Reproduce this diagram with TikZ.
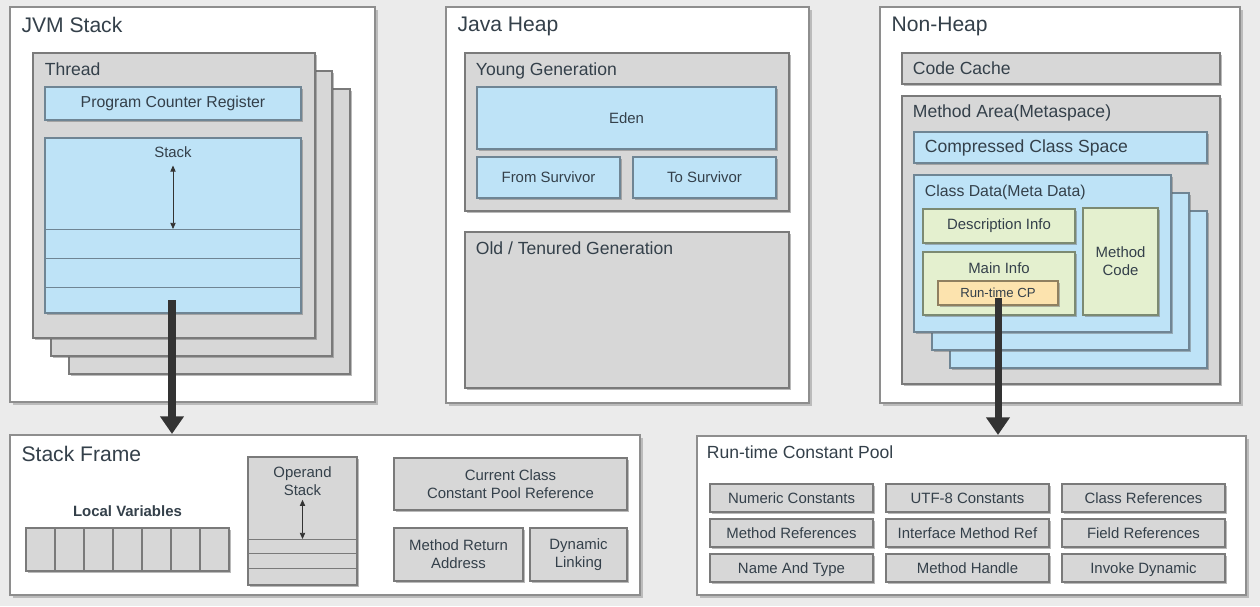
\documentclass[tikz,border=0pt]{standalone}
\usepackage{fontspec}
\setmainfont{Liberation Sans}
\usetikzlibrary{positioning, fit, calc, arrows.meta, shadows}

\definecolor{bgc}{HTML}{EBEBEB}
\definecolor{panelline}{HTML}{8E8E8E}
\definecolor{grayfill}{HTML}{D7D7D7}
\definecolor{grayline}{HTML}{7A7A7A}
\definecolor{bluefill}{HTML}{BEE3F7}
\definecolor{blueline}{HTML}{6F8594}
\definecolor{greenfill}{HTML}{E4F0CF}
\definecolor{greenline}{HTML}{7C8A72}
\definecolor{orangefill}{HTML}{FCE3AE}
\definecolor{orangeline}{HTML}{8F8060}
\definecolor{txt}{HTML}{34404A}
\definecolor{arrowc}{HTML}{333333}

\begin{document}
\begin{tikzpicture}[
  x=0.02cm, y=-0.02cm,
  panel/.style={draw=panelline, line width=1.2pt, fill=white, inner sep=0pt,
    drop shadow={shadow xshift=1.5pt, shadow yshift=-1.5pt, fill=black!45, opacity=0.5}},
  graybox/.style={draw=grayline, fill=grayfill, line width=0.7pt, inner sep=0pt, outer sep=0pt,
    text=txt, align=center, font=\fontsize{8.5}{10.2}\selectfont,
    drop shadow={shadow xshift=1pt, shadow yshift=-1pt, fill=black!60, opacity=0.45}},
  bluebox/.style={graybox, draw=blueline, fill=bluefill},
  greenbox/.style={graybox, draw=greenline, fill=greenfill},
  cpbox/.style={graybox, draw=orangeline, fill=orangefill},
  cell/.style={graybox, minimum width=0.58cm, minimum height=0.86cm},
  gridbox/.style={graybox, minimum width=3.26cm, minimum height=0.56cm, text height=6.3pt, text depth=0.3pt},
  title/.style={inner sep=0pt, text=txt, font=\fontsize{12}{14}\selectfont},
  head/.style={inner sep=0pt, text=txt, font=\fontsize{10}{12}\selectfont},
  lbl/.style={inner sep=0pt, text=txt, align=center, font=\fontsize{8.5}{10.2}\selectfont},
  sep/.style={draw=blueline, line width=0.5pt},
  bigarrow/.style={-{Triangle[length=10pt,width=13pt]}, line width=4pt, draw=arrowc},
  dblarrow/.style={{Triangle[length=3.5pt,width=3pt]}-{Triangle[length=3.5pt,width=3pt]}, line width=0.5pt, draw=black!80}
]

\fill[bgc] (0,0) rectangle (1260,606);
\useasboundingbox (0,0) rectangle (1260,606);

% Panels
\node[panel, fit={(10,7) (375,402)}] (jvm) {};
\node[panel, fit={(446,7) (809,403)}] (heap) {};
\node[panel, fit={(880,7) (1240,403)}] (nonheap) {};
\node[panel, fit={(10,435) (640,595)}] (sframe) {};
\node[panel, fit={(697,436) (1246,595)}] (rtcp) {};

\node[title, below right=6pt and 7pt of jvm.north west] (jvmT) {JVM Stack};
\node[title, below right=6pt and 7pt of heap.north west] (heapT) {Java Heap};
\node[title, below right=6pt and 7pt of nonheap.north west] (nonheapT) {Non-Heap};
\node[title, below right=6.5pt and 7pt of sframe.north west] (sframeT) {Stack Frame};
\node[head, below right=6pt and 6pt of rtcp.north west] (rtcpT) {Run-time Constant Pool};

% JVM stack: threads
\node[graybox, fit={(69,89) (350,374)}] (thread3) {};
\node[graybox, fit={(51,71) (332,356)}] (thread2) {};
\node[graybox, fit={(33,53) (315,338)}] (thread) {};
\node[head, below right=5.5pt and 6.5pt of thread.north west] (threadT) {Thread};

\node[bluebox, fit={(45,87) (301,120)}] (pcr) {};
\node[lbl, font=\fontsize{9}{11}\selectfont] at (pcr) {Program Counter Register};

\node[bluebox, fit={(45,138) (301,313)}] (stackbox) {};
\node[lbl, below=5pt of stackbox.north] (stackL) {Stack};
\draw[sep] (stackbox.west |- 0,229) -- (stackbox.east |- 0,229);
\draw[sep] (stackbox.west |- 0,258) -- (stackbox.east |- 0,258);
\draw[sep] (stackbox.west |- 0,287) -- (stackbox.east |- 0,287);
\draw[dblarrow] ([yshift=-4pt]stackL.south) -- (stackL.south |- 0,229);

% Java heap
\node[graybox, fit={(465,53) (789,211)}] (young) {};
\node[head, below right=5.5pt and 6pt of young.north west] (youngT) {Young Generation};
\node[bluebox, fit={(477,87) (776,149)}] (eden) {};
\node[lbl] at (eden) {Eden};
\node[bluebox, fit={(477,157) (620,198)}] (fromS) {};
\node[lbl] at (fromS) {From Survivor};
\node[bluebox, fit={(633,157) (776,198)}] (toS) {};
\node[lbl] at (toS) {To Survivor};

\node[graybox, fit={(465,232) (789,388)}] (old) {};
\node[head, below right=5.5pt and 6pt of old.north west] (oldT) {Old / Tenured Generation};

% Non-heap
\node[graybox, fit={(902,53) (1220,84)}] (ccache) {};
\node[head, right=6pt of ccache.west] (ccacheT) {Code Cache};

\node[graybox, fit={(902,96) (1220,384)}] (marea) {};
\node[head, below right=5pt and 6pt of marea.north west] (mareaT) {Method Area(Metaspace)};

\node[bluebox, fit={(914,132) (1207,163)}] (ccs) {};
\node[head, right=6pt of ccs.west] (ccsT) {Compressed Class Space};

\node[bluebox, fit={(950,211) (1207,368)}] (cdata3) {};
\node[bluebox, fit={(932,193) (1189,350)}] (cdata2) {};
\node[bluebox, fit={(914,175) (1171,332)}] (cdata) {};
\node[head, font=\fontsize{9}{11}\selectfont, below right=5.5pt and 6pt of cdata.north west] (cdataT) {Class Data(Meta Data)};

\node[greenbox, fit={(923,209) (1075,243)}] (desc) {};
\node[lbl] at (desc) {Description Info};
\node[greenbox, fit={(923,252) (1075,315)}] (minfo) {};
\node[lbl, below=6pt of minfo.north] (minfoT) {Main Info};
\node[cpbox, fit={(938,281) (1058,305)}] (rcp) {};
\node[lbl, font=\fontsize{7.5}{9}\selectfont] at (rcp) {Run-time CP};
\node[greenbox, fit={(1083,208) (1158,315)}] (mcode) {};
\node[lbl] at (mcode) {Method\\Code};

% Stack frame
\node[cell] (lv1) at (40.5,549.5) {};
\node[cell, right=0pt of lv1] (lv2) {};
\node[cell, right=0pt of lv2] (lv3) {};
\node[cell, right=0pt of lv3] (lv4) {};
\node[cell, right=0pt of lv4] (lv5) {};
\node[cell, right=0pt of lv5] (lv6) {};
\node[cell, right=0pt of lv6] (lv7) {};
\node[lbl, font=\bfseries\fontsize{8.5}{10}\selectfont, above=6pt of lv4] (lvT) {Local Variables};

\node[graybox, fit={(248,457) (357,585)}] (opstack) {};
\node[lbl, below=5.5pt of opstack.north] (opL) {Operand\\Stack};
\draw[sep, draw=grayline] (opstack.west |- 0,539) -- (opstack.east |- 0,539);
\draw[sep, draw=grayline] (opstack.west |- 0,553) -- (opstack.east |- 0,553);
\draw[sep, draw=grayline] (opstack.west |- 0,568) -- (opstack.east |- 0,568);
\draw[dblarrow] ([yshift=-2pt]opL.south) -- (opL.south |- 0,539);

\node[graybox, fit={(394,458) (627,510)}] (ccpr) {};
\node[lbl] at (ccpr) {Current Class\\Constant Pool Reference};
\node[graybox, fit={(394,528) (523,581)}] (mra) {};
\node[lbl] at (mra) {Method Return\\Address};
\node[graybox, fit={(530,528) (627,581)}] (dlink) {};
\node[lbl] at (dlink) {Dynamic\\Linking};

% Run-time constant pool entries
\node[gridbox] (numc) at (791.5,498) {Numeric Constants};
\node[gridbox, right=0.26cm of numc] (utf) {UTF-8 Constants};
\node[gridbox, right=0.26cm of utf] (classr) {Class References};
\node[gridbox, below=0.14cm of numc] (methr) {Method References};
\node[gridbox, right=0.26cm of methr] (ifmr) {Interface Method Ref};
\node[gridbox, right=0.26cm of ifmr] (fieldr) {Field References};
\node[gridbox, below=0.14cm of methr] (nat) {Name And Type};
\node[gridbox, right=0.26cm of nat] (mhandle) {Method Handle};
\node[gridbox, right=0.26cm of mhandle] (invd) {Invoke Dynamic};

% Arrows
\coordinate (jvmArrow) at (172,300);
\draw[bigarrow] (jvmArrow) -- (jvmArrow |- sframe.north);
\draw[bigarrow] ([yshift=4pt]rcp.south) -- (rcp.south |- rtcp.north);

\end{tikzpicture}
\end{document}
